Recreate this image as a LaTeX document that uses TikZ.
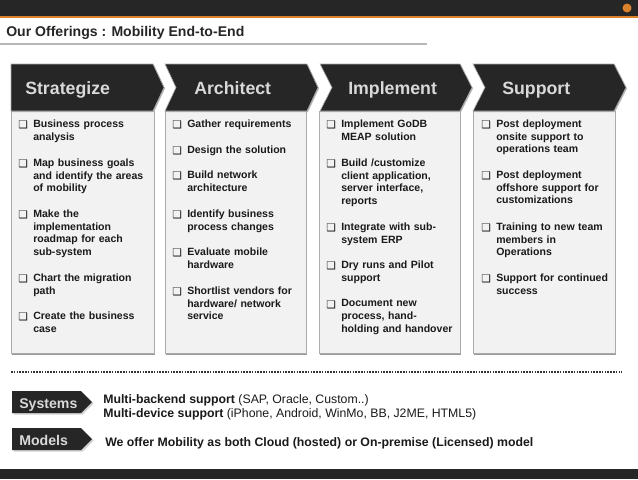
\documentclass[tikz,border=0pt]{standalone}
\usepackage{fontspec}
\setmainfont{Liberation Sans}
\newfontfamily\symfont{DejaVu Sans}
\definecolor{darkbar}{HTML}{262626}
\definecolor{panelfill}{HTML}{F2F2F2}
\definecolor{panelline}{HTML}{ABABAB}
\definecolor{shadowc}{HTML}{9A9A9A}
\definecolor{headtext}{HTML}{D9D9D9}
\definecolor{bodytext}{HTML}{1A1A1A}
\definecolor{accent}{HTML}{D9822B}
\tikzset{
  x=0.75pt,y=-0.75pt,
  panel/.style={fill=panelfill,draw=panelline,line width=0.5pt},
  panelshadow/.style={fill=shadowc,draw=none},
  chev/.style={fill=darkbar,draw=panelline,line width=0.5pt},
  headlabel/.style={text=headtext,font=\bfseries\fontsize{13.3}{15}\selectfont,anchor=base west,inner sep=0pt},
  sidelabel/.style={text=headtext,font=\bfseries\fontsize{10.6}{13}\selectfont,anchor=base west,inner sep=0pt},
  item/.style={text=bodytext,font=\bfseries\fontsize{7.9}{9.6}\selectfont,anchor=north west,inner sep=0pt,align=left,text width=#1},
  item/.default=92pt,
  boxmark/.style={text=bodytext,font=\symfont\fontsize{8}{9.6}\selectfont,anchor=base west,inner sep=0pt},
  line text/.style={text=bodytext,font=\fontsize{9.22}{11}\selectfont,anchor=base west,inner sep=0pt},
}
\newcommand{\entry}[4]{%
  \node[boxmark] at (#1,#2+5) {❑};
  \node[item] (#3) at (#1+15,#2-3.6) {#4};
}
\begin{document}
\begin{tikzpicture}
\useasboundingbox (0,0) rectangle (638,479);
\fill[white] (0,0) rectangle (638,479);
% top and bottom bars
\fill[darkbar] (0,0) rectangle (638,16);
\fill[accent] (0,16) rectangle (638,18);
\fill[darkbar] (0,469) rectangle (638,479);
\fill[accent] (627,8) circle (4.5);
% title
\fill[black!28] (0,42.5) rectangle (427,44.5);
\node[anchor=base west,inner sep=0pt,text=black!85,font=\bfseries\fontsize{10.55}{12}\selectfont] (title) at (6,36) {Our Offerings : Mobility End-to-End};
% panels
\foreach \l/\r in {11/154,165/306,319/460,473/615}{
  \fill[panelshadow] (\l+1.2,113) rectangle (\r+1.2,354.5);
  \draw[panel] (\l,111) rectangle (\r,353);
}
% chevrons
\fill[shadowc!70] (12,65) -- (154,65) -- (165,88.5) -- (154,112) -- (12,112) -- cycle;
\draw[chev] (11,64) -- (153,64) -- (164,87.5) -- (153,111) -- (11,111) -- cycle;
\fill[shadowc!70] (166,65) -- (308,65) -- (319,88.5) -- (308,112) -- (166,112) -- (177,88.5) -- cycle;
\draw[chev] (165,64) -- (307,64) -- (318,87.5) -- (307,111) -- (165,111) -- (176,87.5) -- cycle;
\fill[shadowc!70] (321,65) -- (461,65) -- (473,88.5) -- (461,112) -- (321,112) -- (333,88.5) -- cycle;
\draw[chev] (320,64) -- (460,64) -- (472,87.5) -- (460,111) -- (320,111) -- (332,87.5) -- cycle;
\fill[shadowc!70] (474,65) -- (615,65) -- (627,88.5) -- (615,112) -- (474,112) -- (486,88.5) -- cycle;
\draw[chev] (473,64) -- (614,64) -- (626,87.5) -- (614,111) -- (473,111) -- (485,87.5) -- cycle;
\node[headlabel] (h1) at (25,94) {Strategize};
\node[headlabel] (h2) at (194,94) {Architect};
\node[headlabel] (h3) at (348,94) {Implement};
\node[headlabel] (h4) at (502,94) {Support};
% column 1
\entry{18}{123}{a1}{Business process\\analysis}
\entry{18}{162}{a2}{Map business goals\\and identify the areas\\of mobility}
\entry{18}{213}{a3}{Make the\\implementation\\roadmap for each\\sub-system}
\entry{18}{277}{a4}{Chart the migration\\path}
\entry{18}{315}{a5}{Create the business\\case}
% column 2
\entry{172}{123}{b1}{Gather requirements}
\entry{172}{149}{b2}{Design the solution}
\entry{172}{174}{b3}{Build network\\architecture}
\entry{172}{213}{b4}{Identify business\\process changes}
\entry{172}{251}{b5}{Evaluate mobile\\hardware}
\entry{172}{290}{b6}{Shortlist vendors for\\hardware/ network\\service}
% column 3
\entry{326}{123}{c1}{Implement GoDB\\MEAP solution}
\entry{326}{162}{c2}{Build /customize\\client application,\\server interface,\\reports}
\entry{326}{226}{c3}{Integrate with sub-\\system ERP}
\entry{326}{264}{c4}{Dry runs and Pilot\\support}
\entry{326}{303}{c5}{Document new\\process, hand-\\holding and handover}
% column 4
\entry{481}{123}{d1}{Post deployment\\onsite support to\\operations team}
\entry{481}{174}{d2}{Post deployment\\offshore support for\\customizations}
\entry{481}{226}{d3}{Training to new team\\members in\\Operations}
\entry{481}{277}{d4}{Support for continued\\success}
% dotted rule
\draw[black!80,line width=1.4pt,dash pattern=on 1.2pt off 0.9pt] (11,372) -- (622,372);
% side labels
\fill[black!18] (13.5,392.5) -- (82.5,392.5) -- (93.5,403.5) -- (82.5,414.5) -- (13.5,414.5) -- cycle;
\fill[darkbar] (12,391) -- (81,391) -- (92,402) -- (81,413) -- (12,413) -- cycle;
\fill[black!18] (13.5,429.5) -- (82.5,429.5) -- (93.5,440.5) -- (82.5,451.5) -- (13.5,451.5) -- cycle;
\fill[darkbar] (12,428) -- (81,428) -- (92,439) -- (81,450) -- (12,450) -- cycle;
\node[sidelabel] (sys) at (19,408) {Systems};
\node[sidelabel] (mod) at (19,445) {Models};
% bottom text
\node[line text] (t1) at (103,403) {\textbf{Multi-backend support} (SAP, Oracle, Custom..)};
\node[line text] (t2) at (103,417.5) {\textbf{Multi-device support} (iPhone, Android, WinMo, BB, J2ME, HTML5)};
\node[line text] (t3) at (105,446.5) {\textbf{We offer Mobility as both Cloud (hosted) or On-premise (Licensed) model}};
\end{tikzpicture}
\end{document}
